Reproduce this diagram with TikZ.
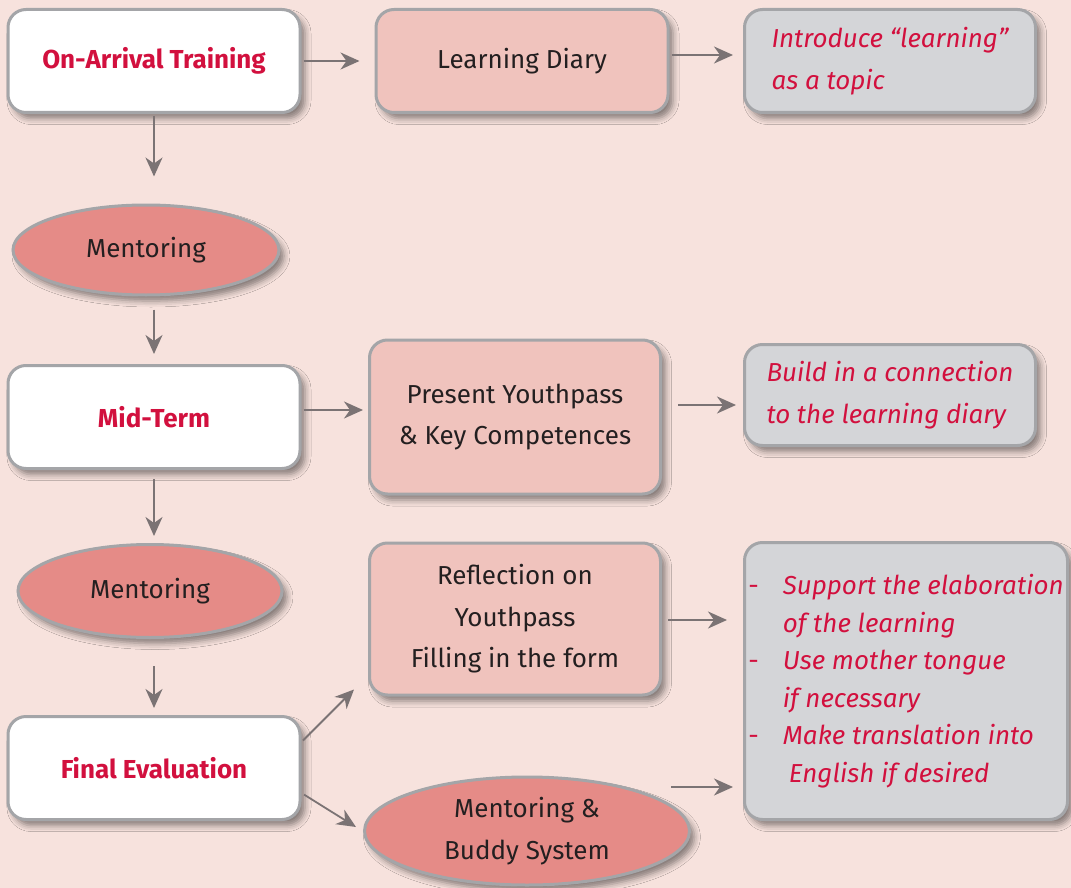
\documentclass[tikz,border=0pt]{standalone}
\usepackage{fontspec}
\setmainfont{Fira Sans}
\usetikzlibrary{arrows.meta, shapes.geometric, shadows.blur}

\definecolor{bgpink}{HTML}{F7E2DD}
\definecolor{boxline}{HTML}{A4A5A8}
\definecolor{boxrose}{HTML}{F0C3BD}
\definecolor{boxgrey}{HTML}{D4D5D8}
\definecolor{ovalred}{HTML}{E58B87}
\definecolor{titlered}{HTML}{D2103E}
\definecolor{arrowgrey}{HTML}{7B7374}
\definecolor{textblack}{HTML}{231F20}

\tikzset{
  shade/.style={blur shadow={shadow xshift=5pt, shadow yshift=-6pt,
      shadow blur radius=6pt, shadow opacity=45}},
  card/.style={draw=boxline, line width=3pt, rounded corners=18pt, shade,
      minimum width=292pt, minimum height=103pt, inner sep=0pt,
      align=center, text=textblack, font=\fontsize{26}{41.5}\selectfont},
  stage/.style={card, fill=white, text=titlered,
      font=\fontsize{26}{41.5}\selectfont\bfseries},
  tool/.style={card, fill=boxrose},
  hint/.style={card, fill=boxgrey, text=titlered, align=left,
      font=\fontsize{26}{41.5}\selectfont\itshape},
  oval/.style={ellipse, draw=boxline, line width=3pt, fill=ovalred, shade,
      inner sep=0pt, align=center, text=textblack,
      font=\fontsize{26}{41.5}\selectfont},
  flow/.style={draw=arrowgrey, line width=1.8pt,
      -{Stealth[length=19pt, width=17pt, inset=6pt]}}
}

\begin{document}
\begin{tikzpicture}[x=1pt, y=-1pt]
% Background
\fill[bgpink] (0,0) rectangle (1071,888);
\useasboundingbox (0,0) rectangle (1071,888);
% Left column
\node[stage] (arrival) at (154,61)  {On-Arrival Training};
\node[oval, minimum width=266pt, minimum height=90pt] (mentor1) at (146,250) {Mentoring};
\node[stage] (midterm) at (154,417) {Mid-Term};
\node[oval, minimum width=264pt, minimum height=93pt] (mentor2) at (150,591) {Mentoring};
\node[stage] (final)   at (154,768) {Final Evaluation};
% Middle column
\node[tool] (diary)   at (522,61)  {Learning Diary};
\node[tool, minimum width=291pt, minimum height=154pt] (youthpass) at (515,417)
      {Present Youthpass\\ \& Key Competences};
\node[tool, minimum width=291pt, minimum height=152pt] (reflect) at (515,619)
      {Reflection on\\ Youthpass\\ Filling in the form};
\node[oval, minimum width=325pt, minimum height=108pt] (buddy) at (527,831)
      {Mentoring \&\\ Buddy System};
% Right column
\node[hint, minimum width=291pt] (topic) at (890,61)
      {Introduce “learning”\\ as a topic};
\node[hint, minimum width=291pt, minimum height=101pt] (connect) at (890,395)
      {Build in a connection\\ to the learning diary};
\node[hint, minimum width=323pt, minimum height=277pt] (support) at (906,681)
      {\fontsize{26}{37.5}\selectfont
       \begin{tabular}{@{}l@{\hspace{24pt}}l@{}}
       {\upshape -} & Support the elaboration\\
         & of the learning\\
       {\upshape -} & Use mother tongue\\
         & if necessary\\
       {\upshape -} & Make translation into\\
         & \hspace{6pt}English if desired
       \end{tabular}};
% Arrows down the left column
\draw[flow, shorten <=2pt, shorten >=27pt] (arrival.south) -- (arrival.south |- mentor1.north);
\draw[flow, shorten <=13pt, shorten >=10pt] (midterm.north |- mentor1.south) -- (midterm.north);
\draw[flow, shorten <=9pt, shorten >=7pt] (midterm.south) -- (midterm.south |- mentor2.north);
\draw[flow, shorten <=27pt, shorten >=7pt] (final.north |- mentor2.south) -- (final.north);
% Arrows to the right
\draw[flow, shorten <=2pt, shorten >=15pt] (arrival.east) -- (diary.west);
\draw[flow, shorten <=2pt, shorten >=10pt] ([yshift=6pt]diary.east) -- ([yshift=6pt]topic.west);
\draw[flow, shorten <=2pt, shorten >=5pt] ([yshift=7pt]midterm.east) -- ([yshift=7pt]youthpass.west);
\draw[flow, shorten <=16pt, shorten >=7pt] ([yshift=12pt]youthpass.east) -- ([yshift=-10pt]connect.west);
\draw[flow, shorten <=2pt] ([yshift=26pt]final.east) -- ([xshift=-14pt, yshift=7pt]reflect.south west);
\draw[flow, shorten <=3pt] ([yshift=-25pt]final.east) -- ([xshift=-7pt, yshift=4pt]buddy.west);
\draw[flow, shorten <=6pt, shorten >=16pt] ([yshift=-1pt]reflect.east) -- ([yshift=61pt]support.west);
\coordinate (buddyout) at (671,787);
\draw[flow, shorten >=10pt] (buddyout) -- (buddyout -| support.west);
\end{tikzpicture}
\end{document}
